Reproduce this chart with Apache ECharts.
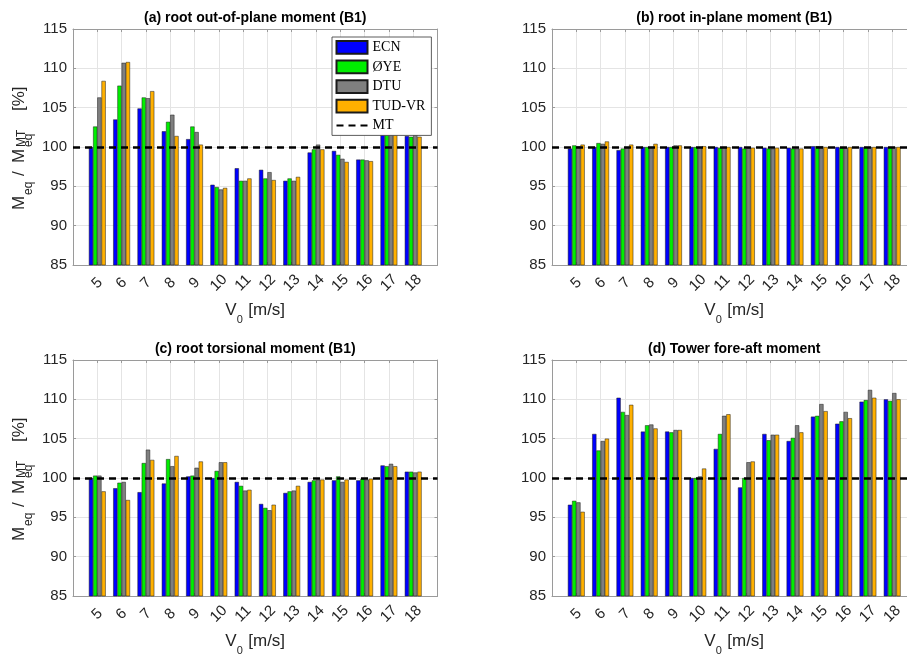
<!DOCTYPE html>
<html>
<head>
<meta charset="utf-8">
<script src="https://cdn.jsdelivr.net/npm/echarts@6/dist/echarts.min.js"></script>
<style>
  html, body { margin: 0; padding: 0; background: #fff; }
  #chart { width: 907px; height: 656px; }
</style>
</head>
<body>
<div id="chart"></div>
<script>
// ---- data ----
const categories = [5, 6, 7, 8, 9, 10, 11, 12, 13, 14, 15, 16, 17, 18];
const models = ['ECN', 'ØYE', 'DTU', 'TUD-VR'];
const modelColors = ['#0000ff', '#00ee00', '#7f7f7f', '#ffb000'];
const MT_LEVEL = 100;
const yTicks = [85, 90, 95, 100, 105, 110, 115];

// (a) root out-of-plane moment
const oopECN = [100.0, 103.5, 104.9, 102.0, 101.0, 95.2, 97.3, 97.1, 95.7, 99.3, 99.5, 98.4, 102.0, 101.4];
const oopOYE = [102.6, 107.8, 106.3, 103.2, 102.6, 94.9, 95.7, 96.0, 96.0, 99.7, 99.0, 98.4, 102.0, 101.3];
const oopDTU = [106.3, 110.7, 106.2, 104.1, 101.9, 94.6, 95.7, 96.8, 95.7, 100.3, 98.5, 98.3, 102.5, 101.6];
const oopTUD = [108.4, 110.8, 107.1, 101.4, 100.3, 94.8, 96.0, 95.8, 96.2, 99.7, 98.1, 98.2, 102.0, 101.3];

// (b) root in-plane moment
const ipECN = [99.8, 100.0, 99.6, 100.0, 100.0, 100.0, 100.0, 100.0, 99.9, 99.9, 100.1, 100.0, 100.0, 100.0];
const ipOYE = [100.2, 100.5, 99.8, 100.0, 100.0, 100.0, 99.9, 99.8, 99.8, 99.8, 100.1, 99.9, 100.0, 100.0];
const ipDTU = [100.1, 100.4, 100.0, 100.0, 100.2, 100.0, 100.0, 99.9, 99.8, 99.8, 100.1, 99.9, 100.0, 100.0];
const ipTUD = [100.3, 100.7, 100.3, 100.4, 100.2, 100.1, 100.0, 99.9, 99.9, 99.8, 100.0, 100.0, 100.0, 100.0];

// (c) root torsional moment
const torECN = [100.0, 98.7, 98.2, 99.3, 100.2, 100.0, 99.5, 96.7, 98.1, 99.5, 99.7, 99.7, 101.6, 100.8];
const torOYE = [100.3, 99.4, 101.9, 102.4, 100.3, 100.9, 99.0, 96.2, 98.3, 99.7, 100.2, 99.9, 101.5, 100.8];
const torDTU = [100.3, 99.5, 103.6, 101.5, 101.3, 102.0, 98.4, 95.9, 98.4, 99.8, 99.5, 99.8, 101.8, 100.7];
const torTUD = [98.3, 97.2, 102.3, 102.8, 102.1, 102.0, 98.5, 96.6, 99.0, 99.8, 99.8, 99.9, 101.5, 100.8];

// (d) tower fore-aft moment
const twrECN = [96.6, 105.6, 110.2, 105.9, 105.9, 100.0, 103.7, 98.8, 105.6, 104.7, 107.8, 106.9, 109.7, 110.0];
const twrOYE = [97.1, 103.5, 108.4, 106.7, 105.8, 100.0, 105.6, 100.0, 104.8, 105.1, 107.9, 107.2, 109.9, 109.8];
const twrDTU = [96.9, 104.7, 108.0, 106.8, 106.1, 100.2, 107.9, 102.0, 105.5, 106.7, 109.4, 108.4, 111.2, 110.8];
const twrTUD = [95.7, 105.0, 109.3, 106.3, 106.1, 101.2, 108.1, 102.1, 105.5, 105.8, 108.5, 107.6, 110.2, 110.0];

const panelTitles = [
  '(a) root out-of-plane moment (B1)',
  '(b) root in-plane moment (B1)',
  '(c) root torsional moment (B1)',
  '(d) Tower fore-aft moment'
];
const panelData = [
  [oopECN, oopOYE, oopDTU, oopTUD],
  [ipECN, ipOYE, ipDTU, ipTUD],
  [torECN, torOYE, torDTU, torTUD],
  [twrECN, twrOYE, twrDTU, twrTUD]
];

// ---- layout ----
const SANS = 'Liberation Sans, Arial, Helvetica, sans-serif';
const SERIF = 'Liberation Serif, Times New Roman, serif';
const FRAME = '#9a9a9a';
const GRIDC = '#e4e4e4';
const TXT = '#262626';
const grids = [
  { left: 73, top: 29, width: 364.5, height: 236 },
  { left: 552, top: 29, width: 364.5, height: 236 },
  { left: 73, top: 360, width: 364.5, height: 236 },
  { left: 552, top: 360, width: 364.5, height: 236 }
];
const xMin = categories[0] - 1, xMax = categories[categories.length - 1] + 1;

const option = {
  animation: false,
  backgroundColor: '#fff',
  title: [],
  grid: grids.map(g => Object.assign({ containLabel: false, outerBoundsMode: 'none' }, g)),
  xAxis: [], yAxis: [], series: [], graphic: [],
  legend: {
    data: models.map(m => ({ name: m, icon: 'rect' })).concat([
      { name: 'MT', itemStyle: { opacity: 0, color: 'transparent', borderWidth: 0 } }
    ]),
    orient: 'vertical',
    left: 332, top: 37,
    itemWidth: 31, itemHeight: 12.7, itemGap: 4.9,
    padding: [3, 6, 3, 3.5],
    borderColor: '#333', borderWidth: 0.8,
    backgroundColor: '#fff',
    selectedMode: false,
    textStyle: { fontFamily: SERIF, fontSize: 14, lineHeight: 12.7, color: '#000' }
  }
};

grids.forEach((g, p) => {
  const cx = g.left + g.width / 2;
  option.title.push({
    text: panelTitles[p], left: cx, top: g.top - 18, textAlign: 'center', padding: 0,
    textStyle: { fontFamily: SANS, fontSize: 14, fontWeight: 'bold', color: '#000' }
  });
  // bottom x axis
  option.xAxis.push({
    type: 'value', gridIndex: p, min: xMin, max: xMax, interval: 1, position: 'bottom',
    axisLine: { show: true, onZero: false, lineStyle: { color: FRAME, width: 1 } },
    axisTick: { show: true, inside: true, length: 3, lineStyle: { color: FRAME } },
    splitLine: { show: true, lineStyle: { color: GRIDC, width: 1 } },
    axisLabel: {
      show: true, rotate: 45, margin: 18, align: 'center', verticalAlign: 'middle',
      fontFamily: SANS, fontSize: 15, color: TXT,
      formatter: v => (categories.indexOf(v) >= 0 ? String(v) : '')
    }
  });
  // top x axis (mirror ticks)
  option.xAxis.push({
    type: 'value', gridIndex: p, min: xMin, max: xMax, interval: 1, position: 'top',
    axisLine: { show: true, onZero: false, lineStyle: { color: FRAME, width: 1 } },
    axisTick: { show: true, inside: true, length: 3, lineStyle: { color: FRAME } },
    splitLine: { show: false }, axisLabel: { show: false }
  });
  option.yAxis.push({
    type: 'value', gridIndex: p, min: yTicks[0], max: yTicks[yTicks.length - 1], interval: 5, position: 'left',
    axisLine: { show: true, lineStyle: { color: FRAME, width: 1 } },
    axisTick: { show: true, inside: true, length: 3, lineStyle: { color: FRAME } },
    splitLine: { show: true, lineStyle: { color: GRIDC, width: 1 } },
    axisLabel: { margin: 6, fontFamily: SANS, fontSize: 15, color: TXT }
  });
  option.yAxis.push({
    type: 'value', gridIndex: p, min: yTicks[0], max: yTicks[yTicks.length - 1], interval: 5, position: 'right',
    axisLine: { show: true, lineStyle: { color: FRAME, width: 1 } },
    axisTick: { show: true, inside: true, length: 3, lineStyle: { color: FRAME } },
    splitLine: { show: false }, axisLabel: { show: false }
  });

  panelData[p].forEach((vals, k) => {
    option.series.push({
      type: 'bar', name: models[k], xAxisIndex: 2 * p, yAxisIndex: 2 * p,
      data: categories.map((c, i) => [c, vals[i]]),
      barWidth: 4.2, barGap: '0%',
      itemStyle: { color: modelColors[k], borderColor: '#1a1a1a', borderWidth: 0.5 },
      emphasis: { disabled: true }
    });
  });
  option.series.push({
    type: 'line', name: 'MT', xAxisIndex: 2 * p, yAxisIndex: 2 * p, data: [],
    symbol: 'none', symbolSize: 0,
    lineStyle: { color: '#000', width: 2.5, type: [7, 5] },
    itemStyle: { color: '#000' },
    markLine: {
      silent: true, symbol: 'none', label: { show: false },
      lineStyle: { color: '#000', width: 2.5, type: [7, 5] },
      data: [{ yAxis: MT_LEVEL }]
    }
  });

  // x axis name: V_0 [m/s]
  const yb = g.top + g.height;
  option.graphic.push(
    { type: 'text', x: cx - 30, y: yb + 45, style: { text: 'V', fontSize: 17, fontFamily: SANS, fill: TXT, align: 'left', verticalAlign: 'middle' } },
    { type: 'text', x: cx - 18.5, y: yb + 55, style: { text: '0', fontSize: 11, fontFamily: SANS, fill: TXT, align: 'left', verticalAlign: 'middle' } },
    { type: 'text', x: cx - 7, y: yb + 45, style: { text: '[m/s]', fontSize: 17, fontFamily: SANS, fill: TXT, align: 'left', verticalAlign: 'middle' } }
  );
  // y axis name on left panels: M_eq / M_eq^MT [%]
  if (p % 2 === 0) {
    const cy = g.top + g.height / 2;
    const L = g.left;
    const rot = Math.PI / 2;
    const t = (text, x, y, size) => ({
      type: 'text', x: x, y: y, rotation: rot,
      style: { text: text, fontSize: size, fontFamily: SANS, fill: TXT, align: 'left', verticalAlign: 'middle' }
    });
    option.graphic.push(
      t('M', L - 54, cy + 63, 17),
      t('eq', L - 44, cy + 48, 12),
      t('/', L - 54, cy + 29, 17),
      t('M', L - 54, cy + 16, 17),
      t('MT', L - 51, cy + 0, 12),
      t('eq', L - 44, cy + 0, 12),
      t('[%]', L - 54, cy - 36, 17)
    );
  }
});

const chart = echarts.init(document.getElementById('chart'), null, { renderer: 'canvas' });
chart.setOption(option);
</script>
</body>
</html>
